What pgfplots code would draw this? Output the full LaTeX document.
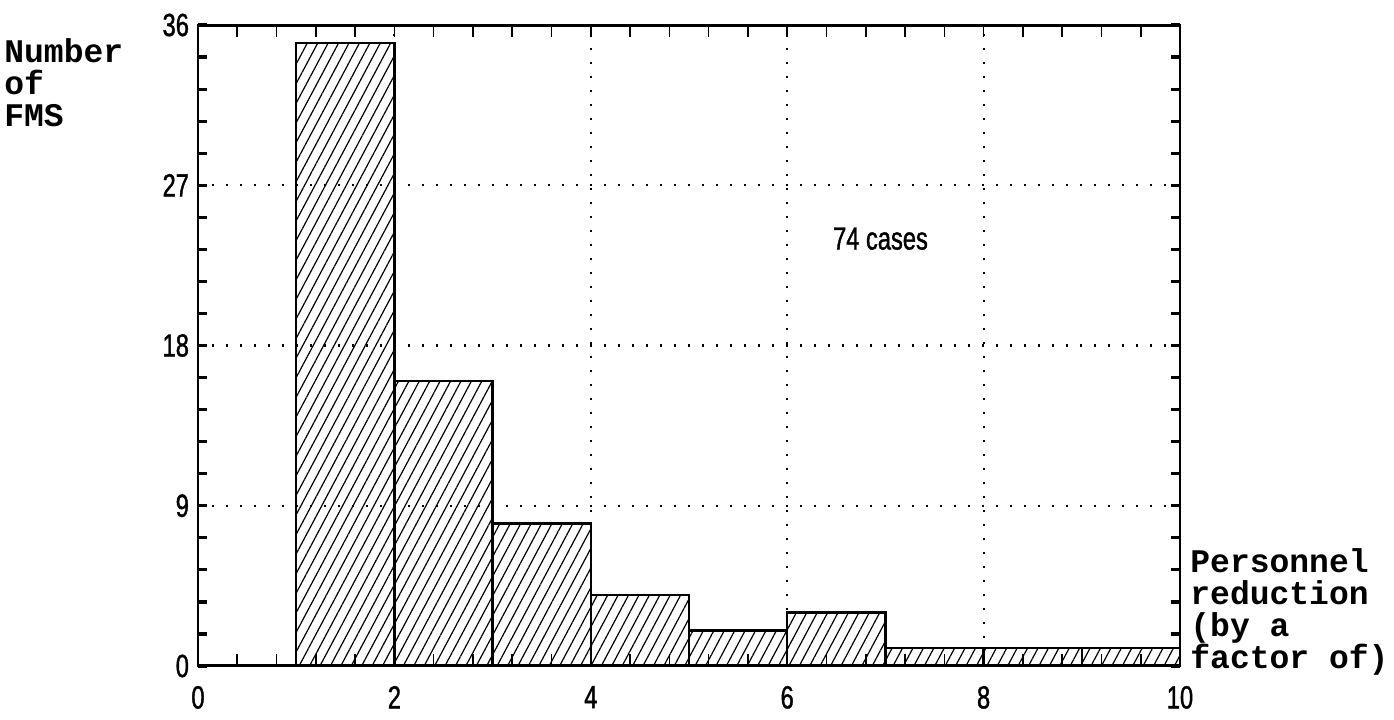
\documentclass[border=0pt]{standalone}
\usepackage{fontspec}
\usepackage{pgfplots}
\pgfplotsset{compat=1.18}
\usetikzlibrary{patterns.meta}
\setmonofont{Liberation Mono}
\newfontfamily\tickfont[FakeStretch=0.74, FakeBold=1.2]{Liberation Sans}

\begin{document}
\begin{tikzpicture}
\begin{axis}[
    at={(0,0)}, anchor=south west,
    scale only axis,
    width=491pt, height=320.5pt,
    xmin=0, xmax=10, ymin=0, ymax=36,
    xtick={0,2,...,10}, ytick={0,9,...,36},
    minor x tick num=4, minor y tick num=4,
    xmajorgrids, ymajorgrids,
    major grid style={black, line width=1.1pt, dash pattern=on 1.1pt off 5.9pt},
    axis line style={line width=1pt},
    tick align=inside,
    x tick style={black, line width=0.8pt},
    y tick style={black, line width=1.6pt},
    xtick style={/pgfplots/major tick length=6pt, /pgfplots/minor tick length=6pt},
    ytick style={/pgfplots/major tick length=4.5pt, /pgfplots/minor tick length=4.5pt},
    /pgf/number format/assume math mode=true,
    ticklabel style={font=\tickfont\fontsize{16}{16}\selectfont},
    xticklabel style={yshift=-6.5pt},
    yticklabel style={xshift=-1pt},
]
\addplot[ybar interval, draw=black, line width=1.2pt,
    pattern={Lines[angle=62, distance=4.6pt, line width=0.6pt]}]
    coordinates {(1,35) (2,16) (3,8) (4,4) (5,2) (6,3) (7,1) (8,1) (9,1) (10,1)};
\draw[line width=2.4pt] (rel axis cs:0,0) -- (rel axis cs:1,0);
\draw[line width=2.2pt] (rel axis cs:0,1) -- (rel axis cs:1,1);
\node[font=\tickfont\fontsize{16}{16}\selectfont] at (axis cs:6.95,24) {74 cases};
\end{axis}
\node[font=\ttfamily\bfseries\fontsize{16.5}{16}\selectfont, align=left, anchor=base west, inner sep=0pt]
    at (496pt, -1pt) {Personnel\\reduction\\(by a\\factor of)};
\node[font=\ttfamily\bfseries\fontsize{16.5}{16}\selectfont, align=left, anchor=base west, inner sep=0pt]
    at (-97pt, 269.5pt) {Number\\of\\FMS};
\pgfresetboundingbox
\path (-99pt,-26.5pt) rectangle (598pt,333pt);
\end{tikzpicture}
\end{document}
